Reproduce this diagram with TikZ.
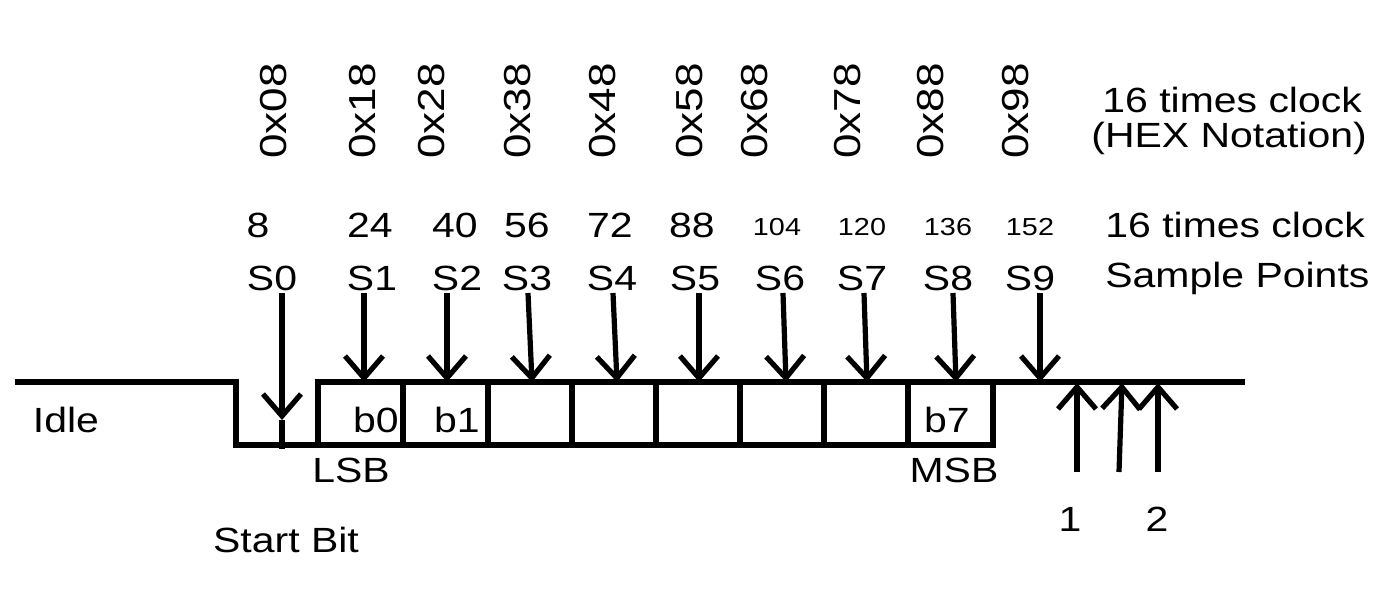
\documentclass[tikz,border=0pt]{standalone}
\usepackage{fontspec}
\setmainfont[FakeStretch=1.17]{Liberation Sans}
\usetikzlibrary{arrows.meta}

\begin{document}
\begin{tikzpicture}[x=0.5pt, y=-0.5pt,
            > = {Straight Barb[length=11pt, width=19pt]},
   wire/.style = {line width=2.6pt},
 sample/.style = {line width=2.6pt, ->},
    lbl/.style = {font=\fontsize{17.5}{21}\selectfont, inner sep=1pt},
  small/.style = {font=\fontsize{12.3}{15}\selectfont, inner sep=1pt},
    hex/.style = {font=\fontsize{18.8}{22}\selectfont, inner sep=1pt, rotate=90}
                        ]
\useasboundingbox (0,0) rectangle (1394,606);
% waveform
    \draw[wire] (15,382) -- (236,382) -- (236,445) -- (318,445);
    \draw[wire] (318,445) -- (318,382) -- (1245,382);
    \draw[wire] (318,445) -- (993,445) -- (993,382);
    \foreach \x in {403,488,572,656,740,824,908}
        \draw[wire] (\x,382) -- (\x,445);
% hex row
    \foreach \x/\h in {274/08,363/18,432/28,518/38,603/48,690/58,755/68,848/78,931/88,1016/98}
        \node[hex] (h\h) at (\x,111) {0x\h};
    \node[lbl, anchor=west] (hexclk) at (1100,100) {16 times clock};
    \node[lbl, anchor=west] (hexnote) at (1089,138) {(HEX Notation)};
% decimal row
    \foreach \x/\n in {258/8,370/24,455/40,527/56,610/72,692/88}
        \node[lbl] (n\n) at (\x,225) {\n};
    \foreach \x/\n in {777/104,862/120,948/136,1030/152}
        \node[small] (n\n) at (\x,227) {\n};
    \node[lbl, anchor=west] (decclk) at (1103,225) {16 times clock};
% sample points
    \foreach \x/\i in {272/0,372/1,457/2,527/3,612/4,695/5,780/6,862/7,948/8,1030/9}
        \node[lbl] (s\i) at (\x,278) {S\i};
    \node[lbl, anchor=west] (smp) at (1103,278) {Sample Points};
    \foreach \i/\xa/\xb in {0/282/282,1/364/364,2/447/447,3/528/532,4/613/617,5/699/699,6/783/786,7/864/867,8/953/956,9/1040/1040}
    {
        \coordinate (a\i) at (\xa,293);
        \coordinate (t\i) at (\xb,382);
    }
    \coordinate (t0) at (282,420);
    \coordinate (g0) at (282,449);
    \foreach \i in {0,...,9}
        \draw[sample] (a\i) -- (t\i);
    \draw[wire] (t0) -- (g0);
% bit labels
    \node[lbl] (b0) at (376,420) {b0};
    \node[lbl] (b1) at (457,420) {b1};
    \node[lbl] (b7) at (947,420) {b7};
    \node[lbl] (lsb) at (351,470) {LSB};
    \node[lbl] (msb) at (954,470) {MSB};
    \node[lbl] (idle) at (66,420) {Idle};
    \node[lbl] (start) at (286,540) {Start Bit};
% stop bits
    \node[lbl] (stop1) at (1070,519) {1};
    \node[lbl] (stop2) at (1157,519) {2};
    \coordinate (p1) at (1077,472);
    \coordinate (q1) at (1077,383);
    \coordinate (p2) at (1119,472);
    \coordinate (q2) at (1122,383);
    \coordinate (p3) at (1158,472);
    \coordinate (q3) at (1158,383);
    \foreach \i in {1,2,3}
        \draw[sample] (p\i) -- (q\i);
\end{tikzpicture}
\end{document}
